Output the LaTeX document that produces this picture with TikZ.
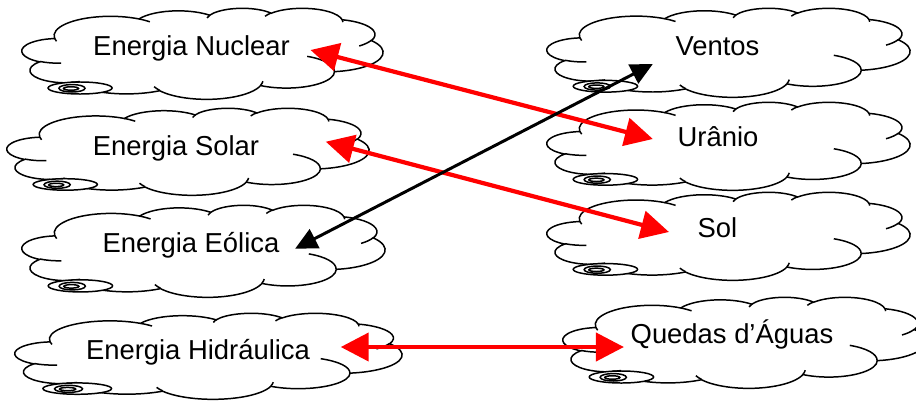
\documentclass[tikz,border=0pt]{standalone}
\usepackage{fontspec}
\setmainfont{Liberation Sans}
\usetikzlibrary{arrows.meta}
\usetikzlibrary{calc}

% elliptic arc with "visual" angles (Word shape data, units of 1000)
\newcommand\varc[4]{arc[x radius=#1cm, y radius=#2cm,
  start angle={atan2(#1*sin(#3),#2*cos(#3))},
  delta angle={mod(atan2(#1*sin(#3+#4),#2*cos(#3+#4))-atan2(#1*sin(#3),#2*cos(#3))+720,360)}]}

\tikzset{
  cloudpic/.pic={
    \begin{scope}[x=1cm, y=1cm]
      % outline
      \draw[fill=white] (3.9,14.37)
        \varc{6.753}{9.19}{-190.4875}{123.7805}
        \varc{5.333}{7.267}{-144.1024}{89.9452}
        \varc{4.365}{5.945}{-145.8079}{99.7230}
        \varc{4.857}{6.595}{-130.9861}{117.2417}
        \varc{5.333}{7.273}{-78.7089}{109.0269}
        \varc{6.775}{9.22}{-46.2673}{130.2690}
        \varc{5.785}{7.867}{0.6250}{114.0333}
        \varc{6.752}{9.215}{22.4516}{115.1726}
        \varc{7.72}{10.543}{66.2426}{75.7110}
        \varc{4.36}{5.918}{-274.9421}{146.7356}
        \varc{4.345}{5.945}{-246.8285}{152.5189} -- cycle;
      % inner strokes
      \draw (4.693,26.177) \varc{4.345}{5.945}{86.7420}{26.4295}
        (6.928,34.899) \varc{4.36}{5.918}{73.6105}{11.4475}
        (16.478,39.09) \varc{6.752}{9.215}{137.6242}{14.0811}
        (28.827,34.751) \varc{6.752}{9.215}{6.4533}{15.9984}
        (34.129,22.954) \varc{5.785}{7.867}{-70.2924}{70.9174}
        (41.798,15.354) \varc{5.333}{7.273}{30.3180}{27.7515}
        (38.324,5.426) \varc{4.857}{6.595}{-13.7443}{14.8589}
        (29.078,3.952) \varc{4.857}{6.595}{-149.1815}{18.1954}
        (22.141,4.72) \varc{4.365}{5.945}{-163.4943}{17.6864}
        (14.0,5.192) \varc{6.753}{9.19}{-66.7070}{12.3194}
        (4.127,15.789) \varc{6.753}{9.19}{157.6544}{11.8582};
      % tail
      \draw[fill=white] (6.95,37.97) ellipse[x radius=3.83cm, y radius=2.85cm];
      \draw[fill=white] (5.98,38.1) ellipse[x radius=1.56cm, y radius=1.77cm];
      \draw[fill=white] (5.87,38.2) ellipse[x radius=0.9cm, y radius=0.82cm];
    \end{scope}
  }
}

\begin{document}
\begin{tikzpicture}[
    x=0.02cm, y=-0.02cm,
    line width=0.85pt,
    txt/.style={font=\fontsize{15.6}{18}\selectfont, anchor=base, inner sep=0pt,
      text height=0.4cm, text depth=0.12cm},
    redarrow/.style={draw=red, line width=2.4pt,
      {Triangle[length=0.56cm, width=0.56cm]}-{Triangle[length=0.56cm, width=0.56cm]}},
    blackarrow/.style={draw=black, line width=1.7pt,
      {Triangle[length=0.44cm, width=0.42cm]}-{Triangle[length=0.44cm, width=0.42cm]}}
  ]
  \useasboundingbox (0,0) rectangle (916,400);

  % clouds: left x / top y / width / height (px)
  \foreach \bx/\by/\bw/\bh in {22/8/361/91, 7/108/362/87, 22/205/363/92, 15/313/387/86,
      547/8/363/89, 547/102/363/88, 547/192/363/88, 563/297/363/91}
    \pic[xscale={\bw*0.02/43.2}, yscale={-\bh*0.02/43.2}] at (\bx,\by) {cloudpic};

  % left column
  \node[txt] (nuclear) at (191.5,55) {Energia Nuclear};
  \node[txt] (solar) at (176,155.7) {Energia Solar};
  \node[txt] (eolica) at (191,252.7) {Energia Eólica};
  \node[txt] (hidraulica) at (198,359) {Energia Hidráulica};

  % right column
  \node[txt] (ventos) at (717.5,55) {Ventos};
  \node[txt] (uranio) at (718,146) {Urânio};
  \node[txt] (sol) at (717.5,237) {Sol};
  \node[txt] (quedas) at (732,343) {Quedas d’Águas};

  % links
  \draw[redarrow] ($(nuclear.east)+(20,2)$) -- ($(uranio.west)+(-24,0)$);
  \draw[redarrow] ($(solar.east)+(66,-7)$) -- ($(sol.west)+(-28,2)$);
  \draw[blackarrow] ($(eolica.east)+(15,3)$) -- ($(ventos.west)+(-22,16)$);
  \draw[redarrow] ($(hidraulica.east)+(30,-5)$) -- ($(quedas.west)+(-6,11)$);
\end{tikzpicture}
\end{document}
